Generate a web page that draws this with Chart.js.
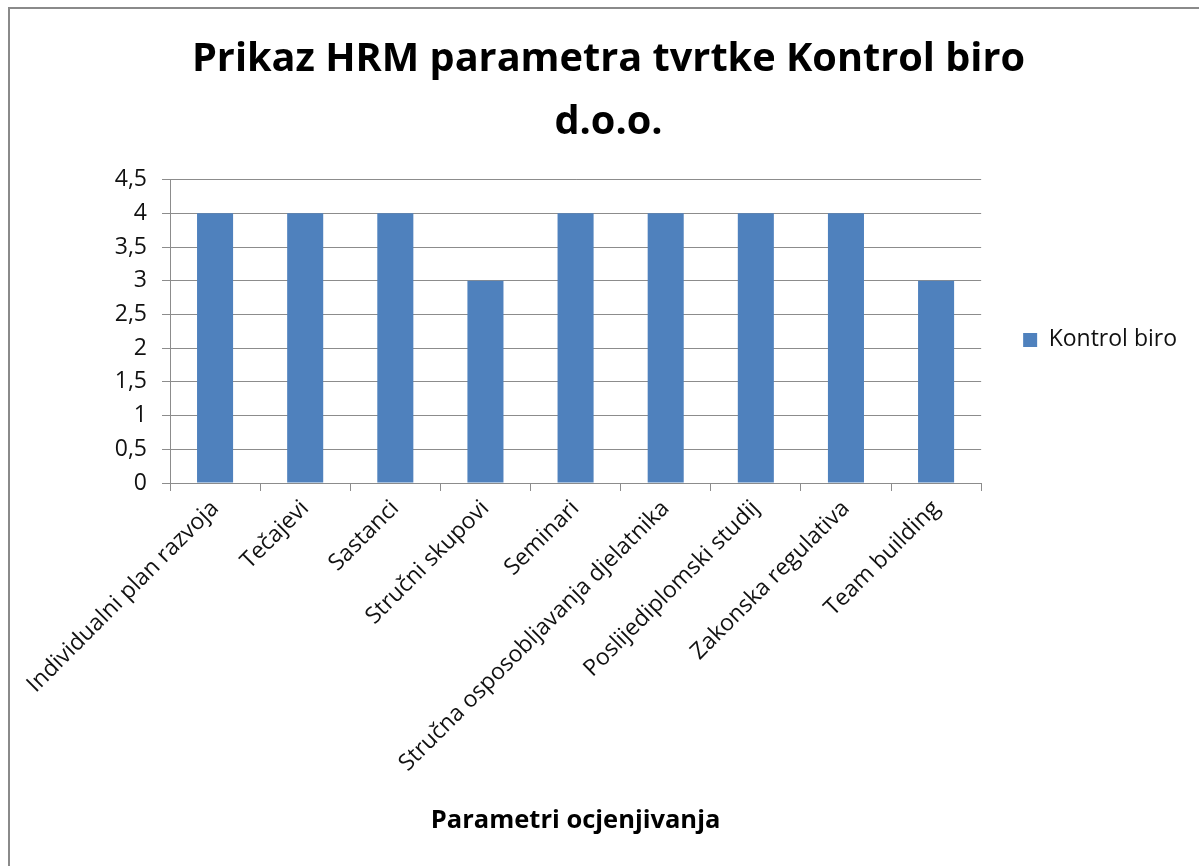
<!DOCTYPE html>
<html>
<head>
<meta charset="utf-8">
<title>Prikaz HRM parametra</title>
<script src="https://cdn.jsdelivr.net/npm/chart.js@4.4.1/dist/chart.umd.min.js"></script>
<style>
    html, body { margin: 0; padding: 0; background: #fff; overflow: hidden; }
    #okvir {
        position: absolute; left: 8px; top: 7px;
        width: 1300px; height: 1000px;
        border: 2px solid #8a8a8a;
    }
    #wrap { position: absolute; left: 0; top: 0; width: 1199px; height: 866px; }
</style>
</head>
<body>
<div id="okvir"></div>
<div id="wrap"><canvas id="grafikon"></canvas></div>
<script>
// Podaci
const kategorije = [
    'Individualni plan razvoja', 'Tečajevi', 'Sastanci', 'Stručni skupovi', 'Seminari',
    'Stručna osposobljavanja djelatnika', 'Poslijediplomski studij', 'Zakonska regulativa', 'Team building'
];
const kontrolBiro = [4, 4, 4, 3, 4, 4, 4, 4, 3];
const yTickovi = [0, 0.5, 1, 1.5, 2, 2.5, 3, 3.5, 4, 4.5];

const FONT = '"Open Sans", Lato, sans-serif';
const SIVA = '#8c8c8c';

(function() {
    'use strict';

    const ctx = document.getElementById('grafikon').getContext('2d');

    new Chart(ctx, {
        type: 'bar',
        data: {
            labels: kategorije,
            datasets: [{
                label: 'Kontrol biro',
                data: kontrolBiro,
                backgroundColor: '#4f81bd',
                borderWidth: 0,
                barPercentage: 0.4,
                categoryPercentage: 1
            }]
        },
        options: {
            responsive: true,
            maintainAspectRatio: false,
            animation: false,
            layout: { padding: { left: 30, right: 12, top: 29, bottom: 30 } },
            plugins: {
                title: {
                    display: true,
                    text: ['Prikaz HRM parametra tvrtke Kontrol biro', 'd.o.o.'],
                    color: '#000',
                    font: { family: FONT, size: 39.7, weight: 'bold', lineHeight: 1.57 },
                    padding: { top: 0, bottom: 26 }
                },
                legend: {
                    position: 'right',
                    align: 'start',
                    // prazan naslov samo spusta legendu na sredinu
                    title: {
                        display: true,
                        text: '',
                        font: { size: 12, lineHeight: 1.2 },
                        padding: { top: 275, bottom: 0 }
                    },
                    labels: {
                        color: '#111',
                        font: { family: FONT, size: 23 },
                        boxWidth: 14,
                        boxHeight: 14,
                        padding: 10
                    }
                },
                tooltip: { enabled: false }
            },
            scales: {
                x: {
                    grid: { drawOnChartArea: false, drawTicks: true, tickLength: 8, color: SIVA, offset: true },
                    border: { color: SIVA, width: 1 },
                    ticks: {
                        color: '#111',
                        font: { family: FONT, size: 23 },
                        autoSkip: false,
                        maxRotation: 45,
                        minRotation: 45,
                        padding: 4
                    },
                    title: {
                        display: true,
                        text: 'Parametri ocjenjivanja',
                        color: '#000',
                        font: { family: FONT, size: 25.5, weight: 'bold' },
                        padding: { top: 10, bottom: 0 }
                    },
                    afterFit: function(s) { s.height = 866 - 483 - 30; }
                },
                y: {
                    min: 0,
                    max: 4.5,
                    afterBuildTicks: function(s) {
                        s.ticks = yTickovi.map(function(v) { return { value: v }; });
                    },
                    grid: { color: SIVA, tickLength: 8 },
                    border: { color: SIVA, width: 1 },
                    ticks: {
                        color: '#111',
                        font: { family: FONT, size: 23 },
                        padding: 15,
                        callback: function(v) { return String(v).replace('.', ','); }
                    },
                    afterFit: function(s) { s.width = 140; }
                },
                // prazan razmak izmedu grafa i legende
                razmak: {
                    position: 'right',
                    display: true,
                    grid: { display: false },
                    border: { display: false },
                    ticks: { display: false },
                    afterFit: function(s) { s.width = 32; }
                }
            }
        }
    });
})();
</script>
</body>
</html>
